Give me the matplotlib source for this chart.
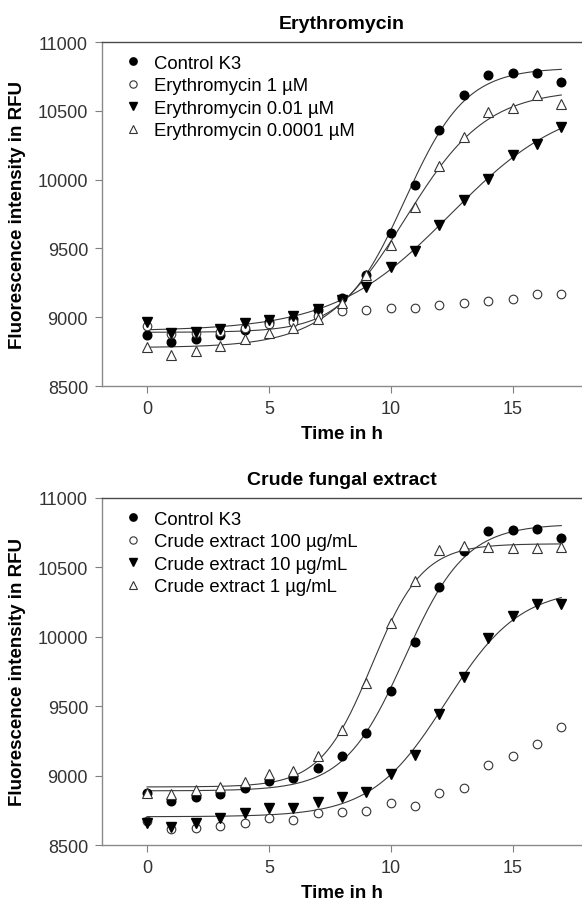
import numpy as np
import matplotlib
matplotlib.use("Agg")
import matplotlib.pyplot as plt
from matplotlib.lines import Line2D

plt.rcParams['font.family'] = ['Liberation Sans', 'DejaVu Sans']

# ---------------- data ----------------
time_h = list(range(18))

control_k3 = [8872, 8817, 8843, 8868, 8910, 8962, 8985, 9055, 9142, 9305, 9612, 9962,
              10362, 10615, 10762, 10772, 10778, 10712]

ery_1uM = [8935, 8880, 8885, 8895, 8920, 8950, 8965, 9010, 9048, 9052, 9066, 9068,
           9090, 9105, 9120, 9133, 9165, 9168]
ery_001uM = [8962, 8885, 8893, 8913, 8958, 8982, 9010, 9060, 9125, 9220, 9365, 9478,
             9670, 9852, 10005, 10180, 10258, 10382]
ery_00001uM = [8785, 8725, 8755, 8792, 8842, 8882, 8925, 8990, 9100, 9305, 9527, 9800,
               10097, 10308, 10490, 10517, 10612, 10553]

crude_100 = [8675, 8612, 8622, 8637, 8662, 8693, 8683, 8729, 8741, 8748, 8801, 8782,
             8874, 8914, 9078, 9138, 9230, 9350]
crude_10 = [8660, 8632, 8657, 8693, 8729, 8765, 8765, 8813, 8849, 8885, 9013, 9150,
            9447, 9712, 9994, 10150, 10234, 10236]
crude_1 = [8872, 8865, 8898, 8921, 8952, 9013, 9030, 9138, 9331, 9668, 10097, 10403,
           10624, 10651, 10646, 10640, 10640, 10646]

titles = ["Erythromycin", "Crude fungal extract"]
top_labels = ["Control K3", "Erythromycin 1 \u00b5M", "Erythromycin 0.01 \u00b5M",
              "Erythromycin 0.0001 \u00b5M"]
bottom_labels = ["Control K3", "Crude extract 100 \u00b5g/mL", "Crude extract 10 \u00b5g/mL",
                 "Crude extract 1 \u00b5g/mL"]
x_ticks = [0, 5, 10, 15]
y_ticks = [8500, 9000, 9500, 10000, 10500, 11000]
x_label = "Time in h"
y_label = "Fluorescence intensity in RFU"

# which series get a sigmoidal regression line
top_fitted = [True, False, True, True]
bottom_fitted = [True, False, True, True]


def sigmoid_fit(x, y):
    """Least-squares 4-parameter logistic fit (grid over x0,w, linear in b,t)."""
    x = np.asarray(x, float)
    y = np.asarray(y, float)
    x0s = np.arange(4.0, 22.0, 0.02)
    ws = np.arange(0.2, 5.0, 0.01)
    best = None
    for w in ws:
        S = 1.0 / (1.0 + np.exp(-(x[None, :] - x0s[:, None]) / w))
        A1 = 1 - S
        A2 = S
        a11 = (A1 * A1).sum(1); a12 = (A1 * A2).sum(1); a22 = (A2 * A2).sum(1)
        r1 = (A1 * y).sum(1); r2 = (A2 * y).sum(1)
        det = a11 * a22 - a12 * a12
        det[det == 0] = 1e-12
        b = (r1 * a22 - r2 * a12) / det
        t = (a11 * r2 - a12 * r1) / det
        pred = b[:, None] * A1 + t[:, None] * A2
        sse = ((pred - y[None, :]) ** 2).sum(1)
        i = np.argmin(sse)
        if best is None or sse[i] < best[0]:
            best = (sse[i], b[i], t[i], x0s[i], w)
    _, b, t, x0, w = best
    return lambda xx: b + (t - b) / (1.0 + np.exp(-(xx - x0) / w))


W, H = 582, 903
fig = plt.figure(figsize=(W / 100, H / 100), dpi=100)

ax_left = 102 / W
ax_width = 1.0 - ax_left
ax_top = fig.add_axes([ax_left, 1 - 387 / H, ax_width, (387 - 43) / H])
ax_bot = fig.add_axes([ax_left, 1 - 846 / H, ax_width, (846 - 499) / H])

marker_styles = [
    dict(marker='o', mfc='black', mec='black', ms=6.2),
    dict(marker='o', mfc='white', mec='#333333', ms=6.2, mew=0.8),
    dict(marker='v', mfc='black', mec='black', ms=6.8),
    dict(marker='^', mfc='white', mec='#333333', ms=6.8, mew=0.8),
]

panels = [
    (ax_top, titles[0], [control_k3, ery_1uM, ery_001uM, ery_00001uM], top_labels, top_fitted),
    (ax_bot, titles[1], [control_k3, crude_100, crude_10, crude_1], bottom_labels, bottom_fitted),
]

xx = np.linspace(0, 17, 300)
for ax, title, series, labels, fitted in panels:
    for ys, fit in zip(series, fitted):
        if fit:
            f = sigmoid_fit(time_h, ys)
            ax.plot(xx, f(xx), color='#3a3a3a', lw=0.8, zorder=2)
    handles = []
    for ys, st, lab in zip(series, marker_styles, labels):
        ax.plot(time_h, ys, ls='none', zorder=3, **st)
        hst = dict(st)
        hst['ms'] = st['ms'] * 0.85
        handles.append(Line2D([], [], ls='none', label=lab, **hst))

    ax.set_xlim(-1.85, 17.85)
    ax.set_ylim(8500, 11000)
    ax.set_xticks(x_ticks)
    ax.set_yticks(y_ticks)
    ax.tick_params(direction='out', length=5, width=0.8, color='#808080',
                   labelsize=13, labelcolor='#333333', pad=5)
    for s in ['left', 'bottom']:
        ax.spines[s].set_color('#8a8a8a')
        ax.spines[s].set_linewidth(1.0)
    ax.spines['top'].set_color('#4a4a4a')
    ax.spines['top'].set_linewidth(1.0)
    ax.spines['right'].set_visible(False)
    ax.set_title(title, fontsize=14, fontweight='bold', pad=10)
    ax.set_xlabel(x_label, fontsize=13.5, fontweight='bold', labelpad=6)
    ax.set_ylabel(y_label, fontsize=13.5, fontweight='bold', labelpad=8)
    ax.legend(handles=handles, loc='upper left', bbox_to_anchor=(0.045, 0.963),
              frameon=False, fontsize=13.3, handlelength=1.0, handletextpad=0.65,
              borderpad=0, borderaxespad=0, labelspacing=0.3)

fig.savefig("out.png", dpi=100)
